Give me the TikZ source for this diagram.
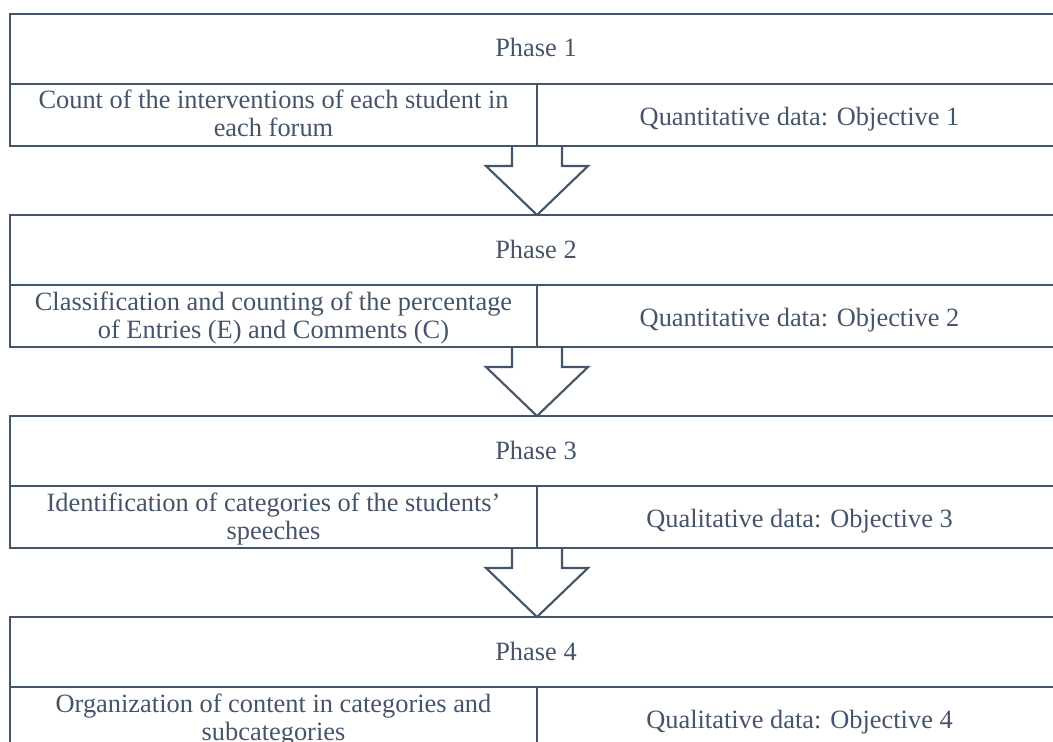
\documentclass[tikz,border=0pt]{standalone}
\usepackage{fontspec}
\setmainfont{Liberation Serif}
\usetikzlibrary{positioning}
\definecolor{slate}{HTML}{44546A}
\tikzset{
	cell/.style={rectangle,draw=slate,line width=1.6pt,text=slate,inner ysep=0pt,outer sep=0pt,font=\fontsize{19.8pt}{21pt}\selectfont},
	phasecell/.style={cell,minimum width=789pt,text height=32.25pt,text depth=20.25pt},
	taskcell/.style={cell,align=center,minimum width=395.25pt,text height=39.75pt,text depth=6.75pt},
	datacell/.style={cell,minimum width=393.75pt,text height=30.75pt,text depth=15.75pt},
	flow/.style={draw=slate,line width=1.6pt,line join=miter}
}

\begin{document}
\begin{tikzpicture}[x=0.75pt,y=-0.75pt]
		\useasboundingbox (0,0) rectangle (1053,742);
		\clip (0,0) rectangle (1053,742);
		
		\node[phasecell,anchor=north west] (phase1) at (10,14) {Phase 1};
		\node[taskcell,below right=0pt and 0pt of phase1.south west] (task1) {Count of the interventions of each student in\\each forum};
		\node[datacell,right=0pt of task1] (data1) {Quantitative data: Objective 1};
		
		\node[phasecell,below right=51.75pt and 0pt of task1.south west] (phase2) {Phase 2};
		\node[taskcell,below right=0pt and 0pt of phase2.south west] (task2) {Classification and counting of the percentage\\of Entries (E) and Comments (C)};
		\node[datacell,right=0pt of task2] (data2) {Quantitative data: Objective 2};
		
		\node[phasecell,below right=51.75pt and 0pt of task2.south west] (phase3) {Phase 3};
		\node[taskcell,below right=0pt and 0pt of phase3.south west] (task3) {Identification of categories of the students'\\speeches};
		\node[datacell,right=0pt of task3] (data3) {Qualitative data: Objective 3};
		
		\node[phasecell,below right=51.75pt and 0pt of task3.south west] (phase4) {Phase 4};
		\node[taskcell,below right=0pt and 0pt of phase4.south west] (task4) {Organization of content in categories and\\subcategories};
		\node[datacell,right=0pt of task4] (data4) {Qualitative data: Objective 4};
		
		\draw[flow] ([xshift=-18.75pt]task1.south east) -- ++(0,-15pt) -- ++(-19.5pt,0) -- (task1.south east |- phase2.north) -- ([xshift=38.25pt,yshift=-15pt]task1.south east) -- ++(-19.5pt,0) -- ([xshift=18.75pt]task1.south east);
		\draw[flow] ([xshift=-18.75pt]task2.south east) -- ++(0,-15pt) -- ++(-19.5pt,0) -- (task2.south east |- phase3.north) -- ([xshift=38.25pt,yshift=-15pt]task2.south east) -- ++(-19.5pt,0) -- ([xshift=18.75pt]task2.south east);
		\draw[flow] ([xshift=-18.75pt]task3.south east) -- ++(0,-15pt) -- ++(-19.5pt,0) -- (task3.south east |- phase4.north) -- ([xshift=38.25pt,yshift=-15pt]task3.south east) -- ++(-19.5pt,0) -- ([xshift=18.75pt]task3.south east);
\end{tikzpicture}
\end{document}
